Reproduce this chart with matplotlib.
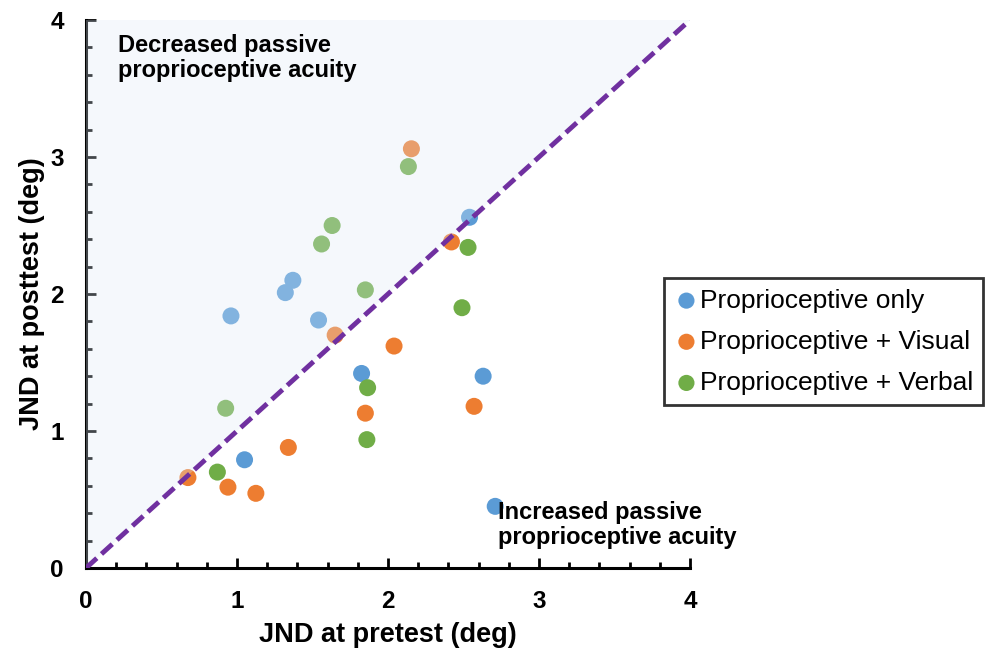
import matplotlib
matplotlib.use("Agg")
import matplotlib.pyplot as plt
from matplotlib.ticker import MultipleLocator

plt.rcParams['font.family'] = ['Liberation Sans', 'DejaVu Sans']

# Data (JND at pretest, JND at posttest), degrees
prop_only_x = [0.96, 1.37, 1.32, 1.54, 2.54, 1.825, 2.63, 1.05, 2.71]
prop_only_y = [1.84, 2.10, 2.01, 1.81, 2.56, 1.42, 1.40, 0.79, 0.45]

prop_visual_x = [2.155, 2.42, 1.65, 2.04, 1.85, 2.57, 1.34, 0.675, 0.94, 1.125]
prop_visual_y = [3.06, 2.38, 1.70, 1.62, 1.13, 1.18, 0.88, 0.66, 0.59, 0.545]

prop_verbal_x = [2.135, 1.63, 1.56, 1.85, 2.53, 2.49, 1.865, 1.86, 0.925, 0.87]
prop_verbal_y = [2.93, 2.50, 2.365, 2.03, 2.34, 1.90, 1.316, 0.937, 1.166, 0.70]

series_labels = ["Proprioceptive only", "Proprioceptive + Visual", "Proprioceptive + Verbal"]
series_colors = ["#5B9BD5", "#ED7D31", "#70AD47"]
ticks = [0, 1, 2, 3, 4]

fig = plt.figure(figsize=(9.86, 6.53), dpi=100)
ax = fig.add_axes([86/986, 1 - 568/653, 604/986, 548/653])

series = [(prop_only_x, prop_only_y), (prop_visual_x, prop_visual_y), (prop_verbal_x, prop_verbal_y)]
handles = []
for (xs, ys), lab, col in zip(series, series_labels, series_colors):
    h = ax.scatter(xs, ys, s=150, color=col, edgecolors='none', label=lab, zorder=2)
    handles.append(h)

# shaded region above identity (drawn over points to wash them out)
ax.fill([0, 0, 4], [0, 4, 4], color='#DEEBF7', alpha=0.3, lw=0, zorder=3)
ax.plot([0, 4], [0, 4], color='#7030A0', lw=3.5, ls=(0, (3.0, 1.3)), zorder=4)

ax.set_xlim(0, 4)
ax.set_ylim(0, 4)
ax.set_xticks(ticks)
ax.set_yticks(ticks)
ax.xaxis.set_minor_locator(MultipleLocator(0.2))
ax.yaxis.set_minor_locator(MultipleLocator(0.2))
for s in ['top', 'right']:
    ax.spines[s].set_visible(False)
for s in ['left', 'bottom']:
    ax.spines[s].set_linewidth(2.2)
ax.tick_params(which='major', direction='in', length=7, width=2, labelsize=17.5, pad=16)
ax.tick_params(which='minor', direction='in', length=4, width=2)
for lbl in ax.get_xticklabels() + ax.get_yticklabels():
    lbl.set_fontweight('bold')

ax.set_xlabel("JND at pretest (deg)", fontsize=19.5, fontweight='bold', labelpad=6)
ax.set_ylabel("JND at posttest (deg)", fontsize=19.5, fontweight='bold', labelpad=4)

ax.text(0.21, 3.9, "Decreased passive\nproprioceptive acuity", fontsize=17, fontweight='bold',
        va='top', ha='left', linespacing=1.1, zorder=5)
ax.text(2.73, 0.49, "Increased passive\nproprioceptive acuity", fontsize=17, fontweight='bold',
        va='top', ha='left', linespacing=1.1, zorder=5, clip_on=False)

leg = fig.legend(handles=handles, loc='upper left', bbox_to_anchor=(664/986, 1 - 278/653),
                 fontsize=19, frameon=True, fancybox=False, handletextpad=0.05,
                 handlelength=0.9, borderpad=0.4, labelspacing=0.65, markerscale=0.95,
                 borderaxespad=0)
leg.get_frame().set_edgecolor('black')
leg.get_frame().set_linewidth(2)

fig.savefig("out.png", dpi=100)
